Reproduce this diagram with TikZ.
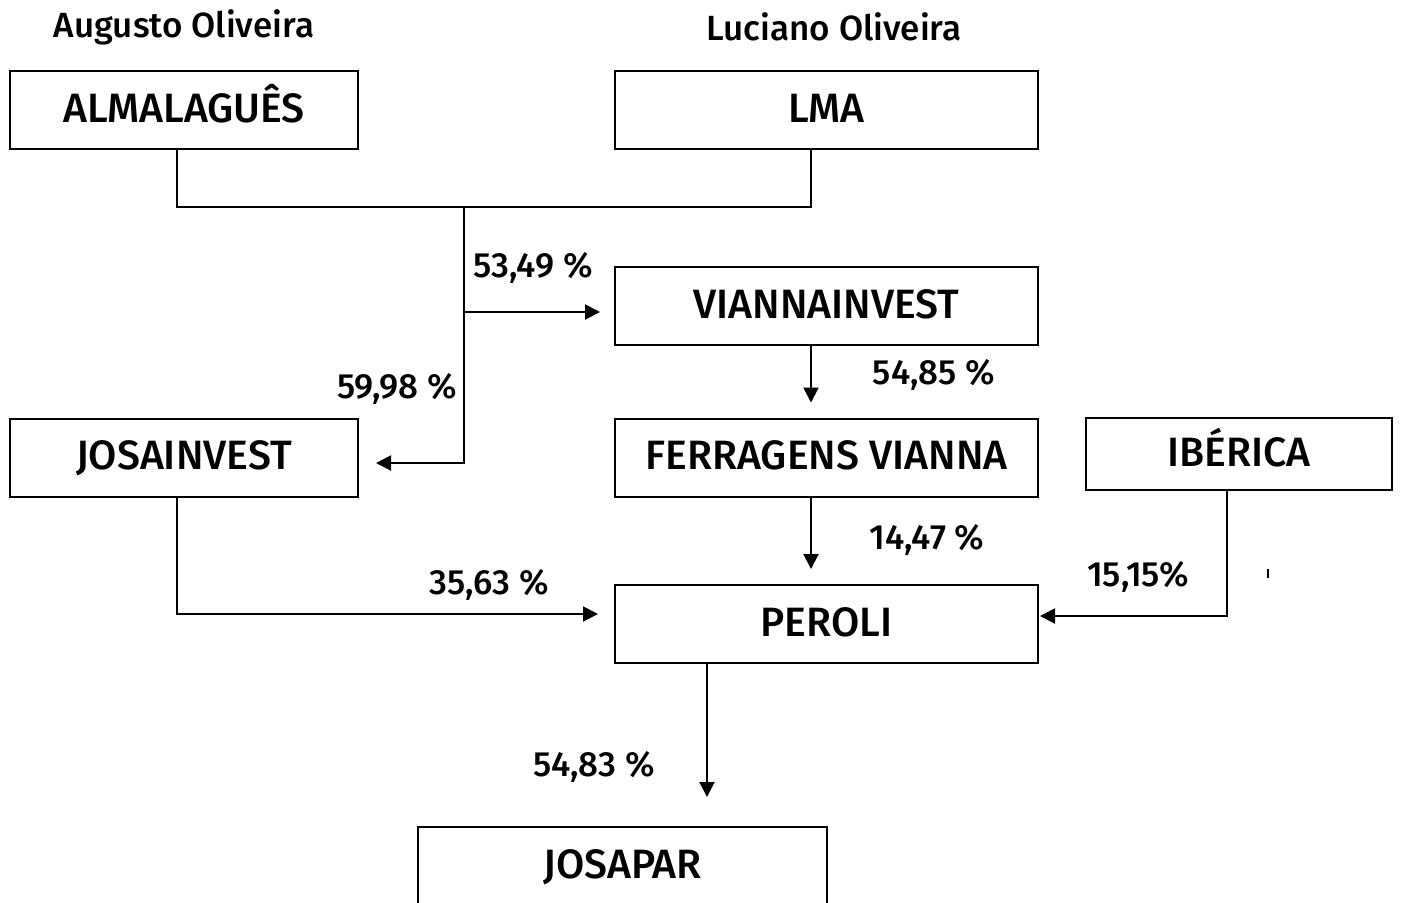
\documentclass[tikz,border=0pt]{standalone}
\usepackage{fontspec}
\setmainfont{Fira Sans}[UprightFont=* Medium]
\usetikzlibrary{arrows.meta}

\begin{document}
\begin{tikzpicture}[x=0.5pt, y=-0.5pt, line width=1pt,
    >={Triangle[length=7.5pt, width=7.5pt]},
    box/.style={draw, minimum height=39pt, inner sep=0, outer sep=0,
      text height=15pt, text depth=3pt,
      font=\fontsize{20.5}{25}\selectfont},
    narrow/.style={box, minimum width=174pt},
    wide/.style={box, minimum width=211.5pt},
    pct/.style={font=\fontsize{17.5}{20}\selectfont, inner sep=0},
    owner/.style={font=\fontsize{17.5}{20}\selectfont, inner sep=0}
  ]
    \useasboundingbox (0,0) rectangle (1403,902);
    % owners
    \node[owner] (augusto) at (184,27) {Augusto Oliveira};
    \node[owner] (luciano) at (834,27) {Luciano Oliveira};
    % companies
    \node[narrow] (alma) at (184,110) {ALMALAGUÊS};
    \node[wide] (lma) at (826.5,110) {LMA};
    \node[wide] (vianna) at (826.5,306) {VIANNAINVEST};
    \node[narrow] (josa) at (184,457.5) {JOSAINVEST};
    \node[wide] (ferr) at (826.5,457.5) {FERRAGENS VIANNA};
    \node[box, minimum width=153pt, minimum height=36pt] (iberica) at (1239,454) {IBÉRICA};
    \node[wide] (peroli) at (826.5,624) {PEROLI};
    \node[box, minimum width=204.5pt, anchor=north] (josapar) at (622.5,827) {JOSAPAR};
    % connectors
    \coordinate (top) at (464,207);
    \coordinate (mid) at (464,312);
    \draw (alma.south -| 177,0) |- (top) -| (lma.south -| 811,0);
    \draw[->, shorten >=9pt] (top) |- (josa.east |- 0,463);
    \draw[->, shorten >=7.5pt] (mid) -- (vianna.west |- mid);
    \draw[->, shorten >=8pt] (vianna.south -| 811,0) -- (ferr.north -| 811,0);
    \draw[->, shorten >=8pt] (ferr.south -| 811,0) -- (peroli.north -| 811,0);
    \draw[->, shorten >=8.5pt] (josa.south -| 177,0) |- (peroli.west |- 0,614);
    \draw[->, shorten >=1pt] (iberica.south -| 1227,0) |- (peroli.east |- 0,616);
    \draw[->, shorten >=15pt] (peroli.south -| 707,0) -- (josapar.north -| 707,0);
    \draw (1268,569) -- (1268,578);
    % shares
    \node[pct] (p1) at (533,268) {53,49 \%};
    \node[pct] (p2) at (397,389) {59,98 \%};
    \node[pct] (p3) at (934,375) {54,85 \%};
    \node[pct] (p4) at (927,540) {14,47 \%};
    \node[pct] (p5) at (489,585) {35,63 \%};
    \node[pct] (p6) at (1138,577) {15,15\%};
    \node[pct] (p7) at (594,767) {54,83 \%};
\end{tikzpicture}
\end{document}
